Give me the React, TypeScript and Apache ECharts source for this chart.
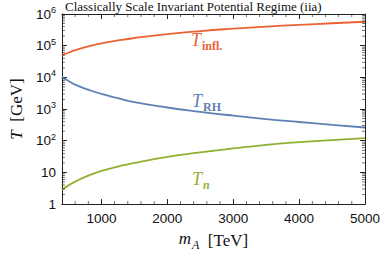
import React, { useEffect, useRef } from "react";
import * as echarts from "echarts";

const mA = [400, 500, 600, 800, 1000, 1250, 1500, 2000, 2500, 3000, 3500, 4000, 4500, 5000];
const Tinfl = [49000, 60000, 72000, 95000, 118000, 146000, 175000, 232000, 290000, 345000, 400000, 455000, 510000, 570000];
const TRH = [10500, 7700, 5900, 4100, 3000, 2200, 1650, 1120, 820, 620, 480, 390, 318, 262];
const Tn = [2.8, 3.9, 5.1, 7.9, 11.2, 15.3, 20, 31, 43, 57, 74, 90, 105, 120];

const xMajorTicks = [1000, 2000, 3000, 4000, 5000];
const xMinorStep = 200;
const yMinorMultipliers = [2, 3, 4, 5, 6, 7, 8, 9];
const yDecades = [1, 10, 100, 1000, 10000, 100000];
const xMin = 400;
const xMax = 5000;
const yMin = 1;
const yMax = 1000000;

const COLORS = { infl: "#EB6235", rh: "#5E81B5", n: "#8FB032" };
const SANS = "'Liberation Sans', Arial, sans-serif";
const SERIF = "'Liberation Serif', 'Times New Roman', serif";
const INK = "#222";

export default function App() {
  const ref = useRef<HTMLDivElement>(null);
  useEffect(() => {
    if (!ref.current) return;
    const chart = echarts.init(ref.current, undefined, { renderer: "svg" });
    const yMinor: number[] = [];
    yDecades.forEach((d) => yMinorMultipliers.forEach((m) => yMinor.push(d * m)));
    const xMinor: number[] = [];
    for (let v = xMin + xMinorStep; v < xMax; v += xMinorStep) {
      if (xMajorTicks.indexOf(v) < 0) xMinor.push(v);
    }
    const zip = (ys: number[]) => mA.map((x, i) => [x, ys[i]]);
    const axisLine = { show: true, lineStyle: { color: INK, width: 1 } };
    const tickMark = (data: number[][], size: number[], offset: number[]) => ({
      type: "scatter",
      silent: true,
      data,
      symbol: "rect",
      symbolSize: size,
      symbolOffset: offset,
      itemStyle: { color: INK },
      z: 4,
    });
    const curve = (ys: number[], color: string) => ({
      type: "line",
      data: zip(ys),
      smooth: true,
      showSymbol: false,
      lineStyle: { color, width: 1.8 },
      z: 3,
    });
    const label = (x: number, y: number, sub: string, color: string, italicSub: boolean) => ({
      type: "text",
      x,
      y,
      style: {
        text: "{t|T}{s|" + sub + "}",
        rich: {
          t: { fontFamily: SERIF, fontSize: 18, fontStyle: "italic", fill: color, verticalAlign: "top" },
          s: {
            fontFamily: SERIF,
            fontSize: 12,
            fontWeight: "bold",
            fontStyle: italicSub ? "italic" : "normal",
            fill: color,
            padding: [9, 0, 0, 1],
            verticalAlign: "top",
          },
        },
      },
    });
    chart.setOption({
      animation: false,
      title: {
        text: "Classically Scale Invariant Potential Regime (iia)",
        left: 65,
        top: 0,
        padding: 0,
        textStyle: { fontFamily: SERIF, fontSize: 13, fontWeight: "normal", color: "#111" },
      },
      grid: { left: 48, right: 15, top: 14, bottom: 44 },
      xAxis: [
        {
          type: "value",
          min: xMin,
          max: xMax,
          axisLine,
          axisTick: { show: true, inside: true, length: 5, lineStyle: { color: INK }, customValues: xMajorTicks },
          axisLabel: {
            fontFamily: SANS,
            fontSize: 13.5,
            color: "#111",
            margin: 7,
            customValues: xMajorTicks,
            formatter: (v: number) => String(v),
          },
          splitLine: { show: false },
          name: "{i|m}{sub|A}  [TeV]",
          nameLocation: "middle",
          nameGap: 24,
          nameTextStyle: {
            fontFamily: SERIF,
            fontSize: 17,
            color: "#111",
            rich: {
              i: { fontFamily: SERIF, fontSize: 17, fontStyle: "italic", color: "#111", verticalAlign: "top" },
              sub: { fontFamily: SERIF, fontSize: 12, fontStyle: "italic", color: "#111", padding: [9, 0, 0, 1], verticalAlign: "top" },
            },
          },
        },
        {
          type: "value",
          position: "top",
          min: xMin,
          max: xMax,
          axisLine,
          axisTick: { show: true, inside: true, length: 5, lineStyle: { color: INK }, customValues: xMajorTicks },
          axisLabel: { show: false },
          splitLine: { show: false },
        },
      ],
      yAxis: [
        {
          type: "log",
          logBase: 10,
          min: yMin,
          max: yMax,
          axisLine,
          axisTick: { show: true, inside: true, length: 5, lineStyle: { color: INK } },
          axisLabel: {
            fontFamily: SANS,
            fontSize: 13.5,
            color: "#111",
            margin: 6,
            formatter: (v: number) => {
              const e = Math.round(Math.log10(v));
              if (e === 0) return "1";
              if (e === 1) return "10";
              return "10{s|" + e + "}";
            },
            rich: { s: { fontFamily: SANS, fontSize: 9, color: "#111", padding: [0, 0, 8, 0] } },
          },
          splitLine: { show: false },
          name: "{i|T}  [GeV]",
          nameLocation: "middle",
          nameGap: 28,
          nameTextStyle: {
            fontFamily: SERIF,
            fontSize: 17,
            color: "#111",
            rich: { i: { fontFamily: SERIF, fontSize: 17, fontStyle: "italic", color: "#111" } },
          },
        },
        {
          type: "log",
          logBase: 10,
          min: yMin,
          max: yMax,
          position: "right",
          axisLine,
          axisTick: { show: true, inside: true, length: 5, lineStyle: { color: INK } },
          axisLabel: { show: false },
          splitLine: { show: false },
        },
      ],
      series: [
        curve(Tinfl, COLORS.infl),
        curve(TRH, COLORS.rh),
        curve(Tn, COLORS.n),
        tickMark(yMinor.map((v) => [xMin, v]), [3, 0.8], [1.5, 0]),
        tickMark(yMinor.map((v) => [xMax, v]), [3, 0.8], [-1.5, 0]),
        tickMark(xMinor.map((v) => [v, yMin]), [0.8, 3], [0, -1.5]),
        tickMark(xMinor.map((v) => [v, yMax]), [0.8, 3], [0, 1.5]),
      ],
      graphic: [
        label(191, 31, "infl.", COLORS.infl, false),
        label(192, 92, "RH", COLORS.rh, false),
        label(192, 170, "n", COLORS.n, true),
      ],
    });
    return () => chart.dispose();
  }, []);
  return <div ref={ref} style={{ width: 383, height: 256, position: "absolute", left: 0, top: 0 }} />;
}
